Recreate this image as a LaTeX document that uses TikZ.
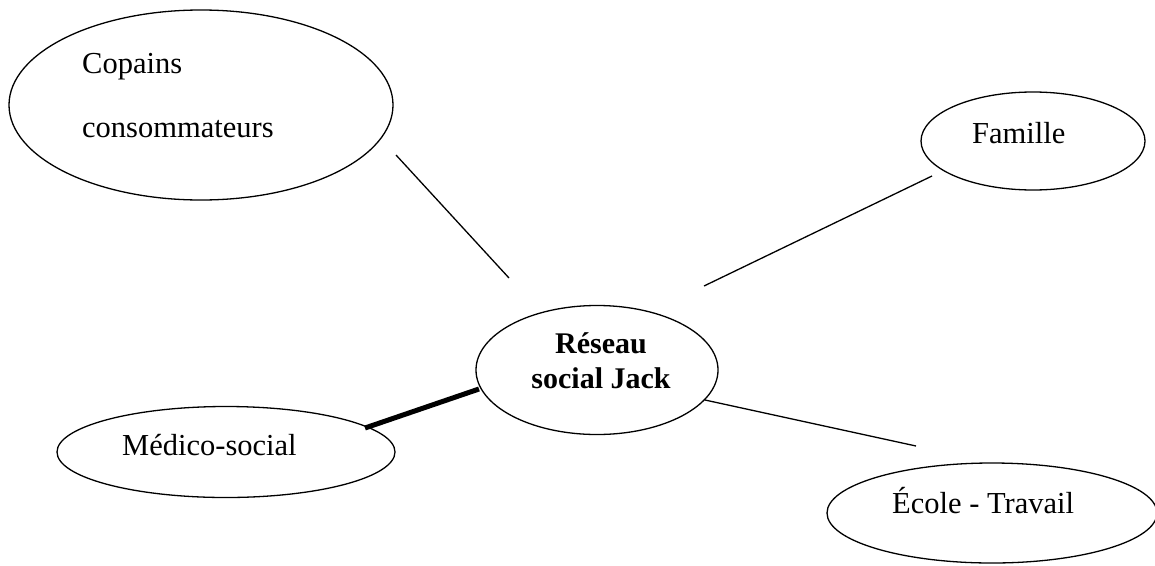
\documentclass[tikz,border=0pt]{standalone}
\usepackage{fontspec}
\setmainfont{Liberation Serif}
\usetikzlibrary{shapes.geometric}
\tikzset{
  bubble/.style={draw, ellipse, line width=1.3pt, inner sep=0pt},
  lbl/.style={anchor=base west, inner sep=0pt, font=\fontsize{30.5}{36}\selectfont},
  blbl/.style={anchor=base, inner sep=0pt, font=\fontsize{30}{36}\selectfont\bfseries},
  link/.style={line width=1.3pt},
  strong/.style={line width=5pt}
}
\begin{document}
\begin{tikzpicture}[x=1pt,y=-1pt]
\useasboundingbox (0,0) rectangle (1155,565);
% ellipses
\node[bubble, minimum width=384pt, minimum height=190pt] (cop) at (201,105) {};
\node[bubble, minimum width=224pt, minimum height=98pt] (fam) at (1033,141) {};
\node[bubble, minimum width=242pt, minimum height=129pt] (res) at (597,370) {};
\node[bubble, minimum width=338pt, minimum height=91pt] (med) at (226,452) {};
\node[bubble, minimum width=330pt, minimum height=100pt] (eco) at (992,513) {};
% texts
\node[lbl] (copt1) at (82,73) {Copains};
\node[lbl] (copt2) at (82,137) {consommateurs};
\node[lbl] (famt) at (972,143) {Famille};
\node[blbl] (rest1) at (601,353) {Réseau};
\node[blbl] (rest2) at (601,388) {social Jack};
\node[lbl] (medt) at (122,455) {Médico-social};
\node[lbl] (ecot) at (892,513) {École - Travail};
% connector end points
\coordinate (c1) at (396,155);
\coordinate (c2) at (509,278);
\coordinate (f1) at (932,176);
\coordinate (f2) at (704,286);
\coordinate (e1) at (705,400);
\coordinate (e2) at (916,446);
\coordinate (m1) at (365,428);
\coordinate (m2) at (479,389);
% connectors
\draw[link] (c1) -- (c2);
\draw[link] (f1) -- (f2);
\draw[link] (e1) -- (e2);
\draw[strong] (m1) -- (m2);
\end{tikzpicture}
\end{document}
